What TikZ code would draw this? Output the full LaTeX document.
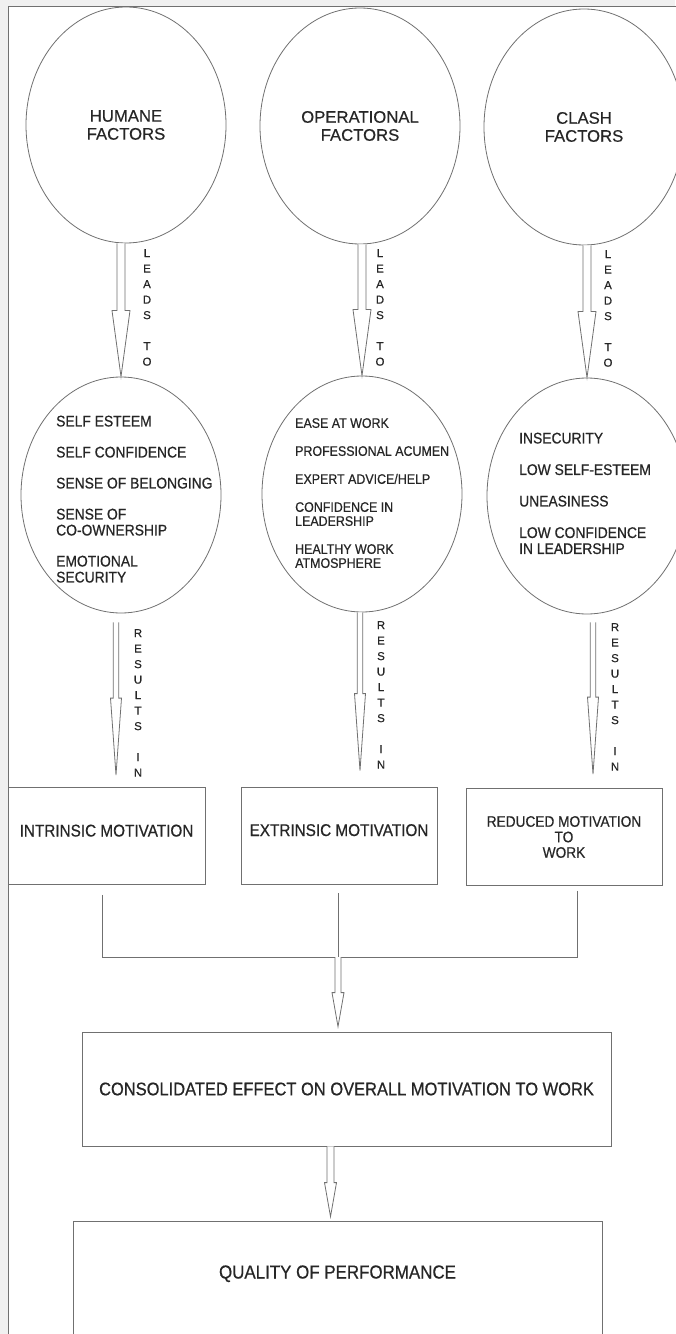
\documentclass[tikz,border=0pt]{standalone}
\usepackage{fontspec}
\setmainfont[FakeBold=0.4]{Liberation Sans}
\newfontfamily\narrowfont[FakeStretch=0.9,FakeBold=0.6]{Liberation Sans}
\usetikzlibrary{shapes.geometric,calc}
\definecolor{inkgray}{HTML}{707070}
\definecolor{textgray}{HTML}{262626}
\definecolor{pagegray}{HTML}{F0F0F0}

\tikzset{
  factor/.style={ellipse,draw=inkgray,line width=0.8bp,inner sep=0pt,
    minimum width=200bp,minimum height=236bp,align=center,text=textgray,
    font=\fontsize{16.7bp}{18bp}\selectfont},
  effect/.style={ellipse,draw=inkgray,line width=0.8bp,inner sep=0pt,
    minimum width=200bp,minimum height=236bp},
  itemlist/.style={anchor=north west,inner sep=0pt,align=left,text=textgray},
  outcome/.style={rectangle,draw=inkgray,line width=0.8bp,align=center,text=textgray,
    minimum width=197bp,minimum height=97bp,
    font=\narrowfont\fontsize{17bp}{15.5bp}\selectfont},
  vword/.style={anchor=north,inner sep=0pt,align=center,text=textgray,
    font=\fontsize{11.5bp}{15.5bp}\selectfont},
  arrowline/.style={draw=inkgray,fill=white,line width=0.8bp,line join=miter},
  joinline/.style={draw=inkgray,line width=0.8bp}
}

% hollow arrow: start, tip, shaft half width, head half width, head length
\newcommand{\hollowarrow}[5]{%
  \draw[arrowline] let \p1=#1, \p2=#2 in
    (\x1-#3,\y1) -- (\x1-#3,\y2+#5) -- (\x1-#4,\y2+#5) -- (\x2,\y2)
    -- (\x1+#4,\y2+#5) -- (\x1+#3,\y2+#5) -- (\x1+#3,\y1);}

\begin{document}
\begin{tikzpicture}[x=1bp,y=-1bp]
  \useasboundingbox (0,0) rectangle (675,1334);
  \fill[pagegray] (0,0) rectangle (675,1334);
  \filldraw[fill=white,draw=inkgray,line width=0.8bp] (8,6) rectangle (700,1360);

  \node[factor] (hum) at (126,125) {HUMANE\\FACTORS};
  \node[factor] (opr) at (360,126) {OPERATIONAL\\FACTORS};
  \node[factor] (cla) at (584,127) {CLASH\\FACTORS};

  \node[effect] (hum2) at (121,495) {};
  \node[effect] (opr2) at (362,494) {};
  \node[effect] (cla2) at (587,496) {};

  \node[itemlist,font=\narrowfont\fontsize{15.4bp}{16bp}\selectfont] (hum2txt) at (56,415.5)
    {SELF ESTEEM\\[15bp]SELF CONFIDENCE\\[15bp]SENSE OF BELONGING\\[15bp]SENSE OF\\CO-OWNERSHIP\\[15bp]EMOTIONAL\\SECURITY};
  \node[itemlist,font=\narrowfont\fontsize{13.8bp}{14bp}\selectfont] (opr2txt) at (295,418)
    {EASE AT WORK\\[14bp]PROFESSIONAL ACUMEN\\[14bp]EXPERT ADVICE/HELP\\[14bp]CONFIDENCE IN\\LEADERSHIP\\[14bp]HEALTHY WORK\\ATMOSPHERE};
  \node[itemlist,font=\narrowfont\fontsize{15.4bp}{16bp}\selectfont] (cla2txt) at (519,432.5)
    {INSECURITY\\[15.5bp]LOW SELF-ESTEEM\\[15.5bp]UNEASINESS\\[15.5bp]LOW CONFIDENCE\\IN LEADERSHIP};

  \node[vword] (humlead) at (147,249) {L\\E\\A\\D\\S\\[15.5bp]T\\O};
  \node[vword] (oprlead) at (380,249) {L\\E\\A\\D\\S\\[15.5bp]T\\O};
  \node[vword] (clalead) at (608,250) {L\\E\\A\\D\\S\\[15.5bp]T\\O};

  \node[outcome,text height=13bp,text depth=12bp] (intr) at (106.5,836) {INTRINSIC MOTIVATION};
  \node[outcome,text height=13bp,text depth=12bp,minimum width=196bp] (extr) at (339,835.5) {EXTRINSIC MOTIVATION};
  \node[outcome,minimum width=196bp,font=\narrowfont\fontsize{15.2bp}{15.5bp}\selectfont] (redu) at (564,837)
    {REDUCED MOTIVATION\\TO\\WORK};

  \node[vword] (humres) at (138,629) {R\\E\\S\\U\\L\\T\\S\\[15.5bp]I\\N};
  \node[vword] (oprres) at (381,621) {R\\E\\S\\U\\L\\T\\S\\[15.5bp]I\\N};
  \node[vword] (clares) at (615,623) {R\\E\\S\\U\\L\\T\\S\\[15.5bp]I\\N};

  \node[rectangle,draw=inkgray,line width=0.8bp,text=textgray,minimum width=529bp,minimum height=114bp,
    font=\narrowfont\fontsize{18.3bp}{20bp}\selectfont] (cons) at (346.5,1089)
    {CONSOLIDATED EFFECT ON OVERALL MOTIVATION TO WORK};
  \node[rectangle,draw=inkgray,line width=0.8bp,text=textgray,minimum width=529bp,anchor=base,
    text height=14bp,text depth=30bp,inner ysep=43.5bp,
    font=\narrowfont\fontsize{18.8bp}{20bp}\selectfont] (qual) at (337.5,1278.5)
    {QUALITY OF PERFORMANCE};

  \hollowarrow{(hum2.north |- hum.south)}{(hum2.north)}{4bp}{9bp}{66bp}
  \hollowarrow{(opr2.north |- opr.south)}{(opr2.north)}{4bp}{9bp}{66bp}
  \hollowarrow{(cla2.north |- cla.south)}{(cla2.north)}{4bp}{9bp}{66bp}

  \hollowarrow{($(hum2.south)+(-5,9)$)}{($(hum2.south |- intr.north)+(-5,-12)$)}{2.8bp}{5.5bp}{77bp}
  \hollowarrow{($(opr2.south)+(-2,0)$)}{($(opr2.south |- extr.north)+(-2,-16)$)}{2.8bp}{5.5bp}{77bp}
  \hollowarrow{($(cla2.south)+(6,8)$)}{($(cla2.south |- redu.north)+(6,-14)$)}{2.8bp}{5.5bp}{77bp}

  \coordinate (join) at (338,957);
  \draw[joinline] ($(intr.south)+(-4.5,10)$) |- (join);
  \draw[joinline] ($(extr.south)+(-1,9)$) -- (join);
  \draw[joinline] ($(redu.south)+(13,5)$) |- (join);

  \hollowarrow{(join)}{($(join |- cons.north)+(0,-5)$)}{3bp}{6bp}{34bp}
  \hollowarrow{($(cons.south)+(-16,0)$)}{($(cons.south |- qual.north)+(-16,-4)$)}{3.5bp}{6bp}{34bp}
\end{tikzpicture}
\end{document}
